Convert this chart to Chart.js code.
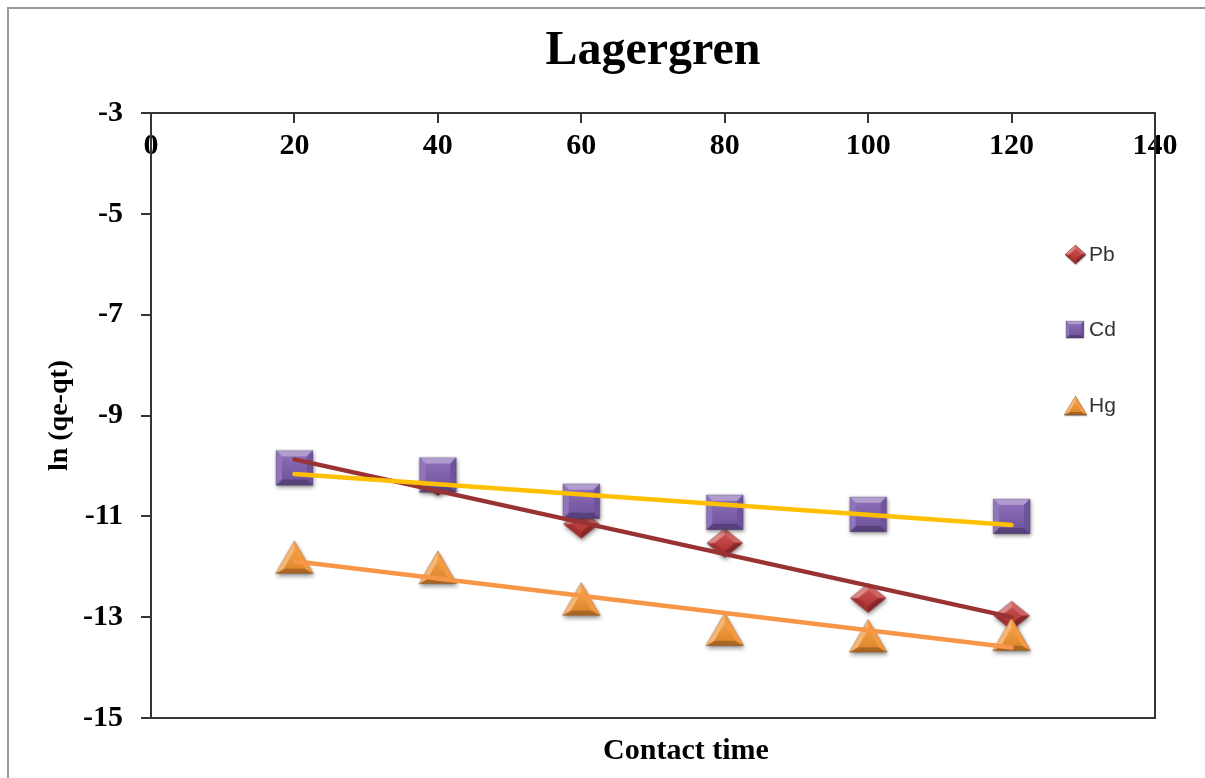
<!DOCTYPE html>
<html>
<head>
<meta charset="utf-8">
<title>Lagergren</title>
<script src="https://cdn.jsdelivr.net/npm/chart.js@4.4.1/dist/chart.umd.min.js"></script>
<style>
  html, body { margin: 0; padding: 0; background: #ffffff; overflow: hidden; }
  #wrap { width: 1205px; height: 778px; position: relative; }
</style>
</head>
<body>
<div id="wrap"><canvas id="chart" width="1205" height="778"></canvas></div>
<script>
// Measured points: contact time vs ln(qe-qt)
const contactTime = [20, 40, 60, 80, 100, 120];
const pbValues = [-10.00, -10.30, -11.15, -11.53, -12.62, -12.97];
const cdValues = [-10.04, -10.18, -10.70, -10.92, -10.96, -11.00];
const hgValues = [-11.81, -12.01, -12.64, -13.24, -13.37, -13.34];

// Linear trend lines (start and end values)
const trendTime = [20, 120];
const pbTrend = [-9.87, -13.00];
const cdTrend = [-10.16, -11.17];
const hgTrend = [-11.89, -13.60];

const seriesNames = ['Pb', 'Cd', 'Hg'];
const xTicks = [0, 20, 40, 60, 80, 100, 120, 140];
const yTicks = [-15, -13, -11, -9, -7, -5, -3];

const SERIF = "'Liberation Serif', 'Times New Roman', serif";
const SANS = "'Liberation Sans', Arial, sans-serif";
const AXIS_COLOR = '#353535';

const pairs = (xs, ys) => xs.map((x, i) => ({ x, y: ys[i] }));

// ---- bevelled marker images ----
function shade(hex, f) {
  const n = parseInt(hex.slice(1), 16);
  let r = (n >> 16) & 255, g = (n >> 8) & 255, b = n & 255;
  const t = f < 0 ? 0 : 255, a = Math.min(1, Math.abs(f));
  r = Math.round(r + (t - r) * a);
  g = Math.round(g + (t - g) * a);
  b = Math.round(b + (t - b) * a);
  return 'rgb(' + r + ',' + g + ',' + b + ')';
}
function outline(kind, x0, y0, w, h) {
  if (kind === 'square') return [[x0, y0], [x0 + w, y0], [x0 + w, y0 + h], [x0, y0 + h]];
  if (kind === 'diamond') return [[x0 + w / 2, y0], [x0 + w, y0 + h / 2], [x0 + w / 2, y0 + h], [x0, y0 + h / 2]];
  return [[x0 + w / 2, y0], [x0 + w, y0 + h], [x0, y0 + h]];
}
function trace(g, pts) {
  g.beginPath();
  pts.forEach((p, i) => (i ? g.lineTo(p[0], p[1]) : g.moveTo(p[0], p[1])));
  g.closePath();
}
function makeMarker(kind, w, h, base, bevel, shadow) {
  const pad = Math.ceil(shadow * 2 + 2);
  const cv = document.createElement('canvas');
  cv.width = Math.round(w + 2 * pad);
  cv.height = Math.round(h + 2 * pad);
  const g = cv.getContext('2d');
  const x0 = (cv.width - w) / 2, y0 = (cv.height - h) / 2;
  const outer = outline(kind, x0, y0, w, h);

  // inner face, inset by the bevel width
  let inner;
  if (kind === 'square') {
    inner = outline(kind, x0 + bevel, y0 + bevel, w - 2 * bevel, h - 2 * bevel);
  } else if (kind === 'diamond') {
    const a = w / 2, b = h / 2, r = (a * b) / Math.hypot(a, b), k = (r - bevel) / r;
    const cx = x0 + a, cy = y0 + b;
    inner = outer.map(([px, py]) => [cx + (px - cx) * k, cy + (py - cy) * k]);
  } else {
    const side = Math.hypot(w / 2, h), r = (w * h / 2) / ((w + 2 * side) / 2);
    const cx = x0 + w / 2, cy = y0 + h - r, k = (r - bevel) / r;
    inner = outer.map(([px, py]) => [cx + (px - cx) * k, cy + (py - cy) * k]);
  }

  // soft drop shadow
  g.save();
  g.shadowColor = 'rgba(0,0,0,0.42)';
  g.shadowBlur = shadow;
  g.shadowOffsetX = shadow * 0.2;
  g.shadowOffsetY = shadow * 0.6;
  trace(g, outer);
  g.fillStyle = base;
  g.fill();
  g.restore();

  // bevel faces lit from the upper left
  const lx = -0.35, ly = -0.94;
  for (let i = 0; i < outer.length; i++) {
    const j = (i + 1) % outer.length;
    const dx = outer[j][0] - outer[i][0], dy = outer[j][1] - outer[i][1];
    const len = Math.hypot(dx, dy);
    const nx = dy / len, ny = -dx / len;
    const lit = nx * lx + ny * ly;
    trace(g, [outer[i], outer[j], inner[j], inner[i]]);
    g.fillStyle = shade(base, lit > 0 ? 0.42 * lit : 0.32 * lit);
    g.fill();
  }

  // main face
  const top = Math.min(...inner.map(p => p[1])), bot = Math.max(...inner.map(p => p[1]));
  const grad = g.createLinearGradient(0, top, 0, bot);
  grad.addColorStop(0, shade(base, 0.1));
  grad.addColorStop(1, shade(base, -0.08));
  trace(g, inner);
  g.fillStyle = grad;
  g.fill();

  trace(g, outer);
  g.strokeStyle = 'rgba(40,30,50,0.22)';
  g.lineWidth = 1;
  g.stroke();
  return cv;
}

const PB_BASE = '#C23A3A', CD_BASE = '#7D5DAE', HG_BASE = '#F29432';
const pbMarker = makeMarker('diamond', 36, 29, PB_BASE, 5, 4);
const cdMarker = makeMarker('square', 37, 35, CD_BASE, 6, 4);
const hgMarker = makeMarker('triangle', 38, 33, HG_BASE, 5, 4);
const keyMarkers = [
  makeMarker('diamond', 21, 19, PB_BASE, 3, 1.5),
  makeMarker('square', 18, 17, CD_BASE, 3, 1.5),
  makeMarker('triangle', 23, 19, HG_BASE, 3, 1.5)
];

// ---- page frame, x caption and series key ----
const framePlugin = {
  id: 'frame',
  beforeDraw(chart) {
    const ctx = chart.ctx;
    ctx.save();
    ctx.fillStyle = '#ffffff';
    ctx.fillRect(0, 0, chart.width, chart.height);
    ctx.strokeStyle = '#9a9a9a';
    ctx.lineWidth = 2;
    ctx.strokeRect(8, 8, chart.width + 20, chart.height + 20);
    ctx.restore();
  }
};

const captionPlugin = {
  id: 'xCaption',
  afterDraw(chart) {
    const ctx = chart.ctx, area = chart.chartArea;
    ctx.save();
    ctx.font = 'bold 30px ' + SERIF;
    ctx.fillStyle = '#000000';
    ctx.textAlign = 'center';
    ctx.textBaseline = 'alphabetic';
    ctx.fillText('Contact time', (area.left + area.right) / 2 + 33, area.bottom + 41);
    ctx.restore();
  }
};

const keyPlugin = {
  id: 'seriesKey',
  afterDraw(chart) {
    const ctx = chart.ctx, area = chart.chartArea;
    const mx = area.right - 80, tx = area.right - 66;
    ctx.save();
    ctx.font = '21px ' + SANS;
    ctx.fillStyle = '#333333';
    ctx.textAlign = 'left';
    ctx.textBaseline = 'middle';
    seriesNames.forEach((name, i) => {
      const y = area.top + 141 + i * 75.7;
      const img = keyMarkers[i];
      ctx.drawImage(img, Math.round(mx - img.width / 2), Math.round(y - img.height / 2));
      ctx.fillText(name, tx, y + 1);
    });
    ctx.restore();
  }
};

const axisGrid = (len) => ({
  drawOnChartArea: false,
  drawTicks: true,
  tickLength: len,
  color: AXIS_COLOR,
  tickColor: AXIS_COLOR,
  lineWidth: 2,
  tickWidth: 2
});
const axisBorder = { display: true, color: AXIS_COLOR, width: 2 };

new Chart(document.getElementById('chart'), {
  type: 'scatter',
  data: {
    datasets: [
      { label: seriesNames[0], data: pairs(contactTime, pbValues), pointStyle: pbMarker, pointRadius: 18,
        backgroundColor: PB_BASE, borderColor: PB_BASE, showLine: false, order: 3 },
      { label: seriesNames[1], data: pairs(contactTime, cdValues), pointStyle: cdMarker, pointRadius: 18,
        backgroundColor: CD_BASE, borderColor: CD_BASE, showLine: false, order: 2 },
      { label: seriesNames[2], data: pairs(contactTime, hgValues), pointStyle: hgMarker, pointRadius: 18,
        backgroundColor: HG_BASE, borderColor: HG_BASE, showLine: false, order: 1 },
      { label: 'Linear (Pb)', data: pairs(trendTime, pbTrend), showLine: true, pointRadius: 0,
        borderColor: '#993333', borderWidth: 4.5, borderCapStyle: 'round', order: 0 },
      { label: 'Linear (Hg)', data: pairs(trendTime, hgTrend), showLine: true, pointRadius: 0,
        borderColor: '#F79646', borderWidth: 4.5, borderCapStyle: 'round', order: -1 },
      { label: 'Linear (Cd)', data: pairs(trendTime, cdTrend), showLine: true, pointRadius: 0,
        borderColor: '#FFC000', borderWidth: 4.5, borderCapStyle: 'round', order: -2 }
    ]
  },
  options: {
    responsive: false,
    animation: false,
    events: [],
    layout: { padding: { left: 0, right: 50, top: 0, bottom: 0 } },
    plugins: {
      legend: { display: false },
      tooltip: { enabled: false },
      title: {
        display: true,
        fullSize: false,
        text: 'Lagergren',
        color: '#000000',
        font: { family: SERIF, size: 48, weight: 'bold', lineHeight: '56px' },
        padding: { top: 24, bottom: 0 }
      }
    },
    scales: {
      x: {
        type: 'linear',
        position: 'top',
        min: xTicks[0],
        max: xTicks[xTicks.length - 1],
        afterBuildTicks: s => { s.ticks = xTicks.map(v => ({ value: v })); },
        afterFit: s => { s.height = 33; },
        grid: axisGrid(-10),
        border: axisBorder,
        ticks: {
          mirror: true,
          padding: 15,
          color: '#000000',
          autoSkip: false,
          maxRotation: 0,
          font: { family: SERIF, size: 30, weight: 'bold' }
        }
      },
      y: {
        type: 'linear',
        position: 'left',
        min: yTicks[0],
        max: yTicks[yTicks.length - 1],
        afterBuildTicks: s => { s.ticks = yTicks.map(v => ({ value: v })); },
        afterFit: s => { s.width = 151; },
        grid: axisGrid(10),
        border: axisBorder,
        ticks: {
          padding: 18,
          color: '#000000',
          autoSkip: false,
          font: { family: SERIF, size: 30, weight: 'bold' }
        },
        title: {
          display: true,
          text: 'ln (qe-qt)',
          color: '#000000',
          font: { family: SERIF, size: 28, weight: 'bold' },
          padding: { top: 43, bottom: 0 }
        }
      },
      x2: {
        type: 'linear',
        position: 'bottom',
        afterFit: s => { s.height = 60; },
        grid: { display: false, drawTicks: false },
        border: axisBorder,
        ticks: { display: false }
      },
      y2: {
        type: 'linear',
        position: 'right',
        afterFit: s => { s.width = 0; },
        grid: { display: false, drawTicks: false },
        border: axisBorder,
        ticks: { display: false }
      }
    }
  },
  plugins: [framePlugin, captionPlugin, keyPlugin]
});
</script>
</body>
</html>
